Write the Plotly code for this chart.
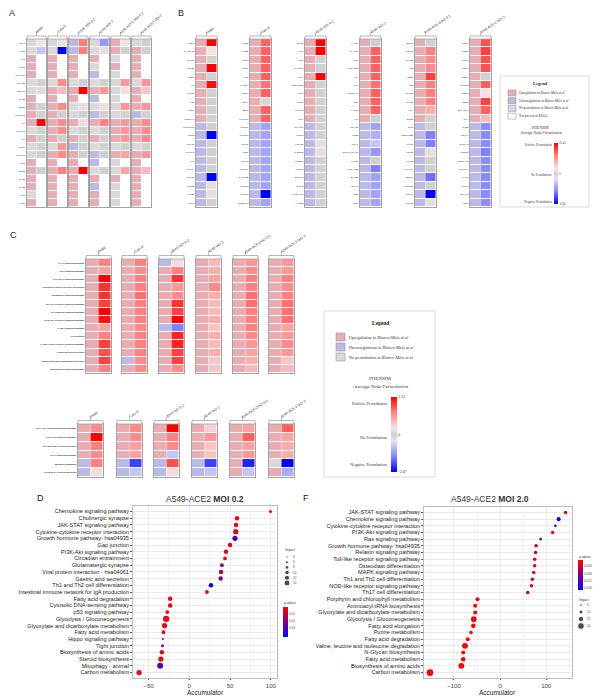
import math
import plotly.graph_objects as go

W, H = 604, 699
def X(p): return p / W
def Y(p): return 1 - p / H

SANS = "Liberation Sans, Arial, sans-serif"
SERIF = "Liberation Serif, Times New Roman, serif"

# ------------------------------------------------------------------ data
GROUPS_A = ["NHBE", "Calu-3", "A549 MOI 0.2", "A549 MOI 2", "A549-ACE2 MOI 0.2", "A549-ACE2 MOI 2"]
GROUPS_BC = ["NHBE", "Calu-3", "A549 MOI 0.2", "A549 MOI 2", "A549-ACE-2MOI 0.2", "A549-ACE-2 MOI 2"]

A_GENES = ["IFNA1", "IFNG", "MX1", "IFITM3", "SAMHD1", "TRIM25", "DDX58", "OAS1", "EDN1", "TNFSF15",
           "IL6", "CXCL11", "IL7", "CXCL9", "CXCL10", "IFIT1", "ISG15", "OAS2", "OAS3", "IFIT2", "IFIT3"]
# status in Blanco-Melo et al: 1 up, -1 down, 0 no perturbation
A_STATUS = [
    [0, 0, 1, 1, 1, 0, 0, 1, 1, 1, 1, 0, 1, 0, 0, 1, 1, 1, 1, 0, 1],
    [0, 0, 1, 1, 1, 0, 1, 1, 1, 1, 1, 1, 1, 0, 1, 1, 1, 1, 1, 1, 1],
    [-1, -1, 1, 1, 1, 0, 1, 1, 0, 0, 1, 0, 1, -1, 1, 1, 1, 1, 1, 1, 1],
    [0, 0, 1, 0, -1, 0, 1, -1, 0, -1, 1, 0, 1, 0, -1, -1, 0, 1, -1, 1, 1],
    [1, 1, 0, 1, 0, 0, 0, 0, 0, 0, 1, 1, 1, 0, 1, 0, 0, 1, 0, 0, 0],
    [0, 1, 1, 1, 1, 0, 1, 1, 1, -1, 1, 1, 1, 0, 1, 1, 1, 1, 1, 1, 1],
]
# PHENSIM average node perturbation (scaled), None = not present in KEGG
A_PERT = [
    [0.15, -0.3, None, None, None, 0, 0.08, None, 0, 0, 1.0, 0, 0, 0, 0, None, 0, None, None, None, None],
    [0.12, -1.0, None, None, None, 0.55, 0.35, None, 0.55, 0, 0.55, 0.55, 0, 0.5, 0.55, None, 0.6, None, None, None, None],
    [0.6, 0.6, None, None, None, 0, 1.0, None, 0.1, 0, 0.1, 0, 0, 0, 0, None, 1.0, None, None, None, None],
    [-0.5, 0.1, None, None, None, 0, 0.5, None, 0.2, 0, 0.6, 0, 0, 0, 0, None, 0, None, None, None, None],
    [0.15, 0, None, None, None, 0.5, 0.2, None, 0.5, 0, 0.5, 0.5, 0.5, 0, 0.45, None, 0.45, None, None, None, None],
    [0, 0, None, None, None, 0.5, 0.3, None, 0.5, 0, 0.55, 0.55, 0.55, 0, 0.5, None, 0.35, None, None, None, None],
]

B_GENES = [
    ["CSF3", "PLA2G4E", "CXCL5", "CCL20", "CSF2", "IL6", "ICAM1", "IL1B", "FPR1", "NOTCH4",
     "CHCHD10", "WNT2", "ALOX15", "ACVR1C", "LYN", "ACVR2A", "NLRP2", "TXLNB", "TRIB1", "HEY2"],
    ["IFNL2", "IFNB1", "IFNL3", "IFNL1", "TNF", "CH25H", "CSF3", "SOX9", "ZBP1", "CXCL10",
     "TNNC1", "NFKBIZ", "AGTR1", "DDC", "GRIK3", "NOTUM", "CAMK2B", "CLDN2", "KCNK3", "NPBWR1"],
    ["ISG15", "MX1", "CR2", "CXCL10", "IRF9", "SERPINE1", "IL7R", "CD27", "CMPK2", "IRF4",
     "NFATC1", "IL18R1", "FOXO1", "GABBR2", "POSTN", "NTSR1", "GNRHR", "EGR2", "CACNA1C", "ALDOB"],
    ["TXNIP", "NAMPT", "FUT1", "ATP6V1C2", "IL6", "IL1A", "RPS6KA2", "EGF", "LAMC2", "VIP",
     "NPY2R", "CPB2", "ITGAL", "ST6GALNAC1", "KRT20", "PRKAR2B", "EPHB2", "ADH1C", "ASNS", "DDC"],
    ["EGR1", "CCL20", "CXCL2", "LTB", "SELE", "TNF", "CXCL3", "CXCL1", "IL1A", "EGR3",
     "IDH2", "SERPINB7", "OXTR", "KRT20", "ACTG2", "CAMK2A", "SSTR1", "CLDN10", "ADCY5", "KRT13"],
    ["IFNL1", "IFNB1", "IFNL2", "IFNL3", "EGR1", "CMPK2", "EGR3", "SELE", "BHLHE41", "IL1A",
     "DIO2", "GSTA1", "SLC1A3", "CLDN2", "CNTNAP2", "ANGPTL4", "GATM", "G6PD", "EPHA5", "DDC"],
]
B_STATUS = [
    [1, 1, 1, 1, 1, 1, 1, 1, 1, 1, -1, -1, -1, -1, -1, -1, -1, -1, -1, -1],
    [1, 1, 1, 1, 1, 1, 1, 1, 1, 1, -1, -1, -1, -1, -1, -1, -1, -1, -1, -1],
    [1, 1, 1, 1, 1, 1, 1, 1, 1, 1, -1, -1, -1, -1, -1, -1, -1, -1, -1, -1],
    [1, 1, 1, 1, 1, 1, 1, 1, 1, 1, -1, -1, -1, -1, -1, -1, -1, -1, -1, -1],
    [1, 1, 1, 1, 1, 1, 1, 1, 1, 1, -1, -1, -1, -1, -1, -1, -1, -1, -1, -1],
    [1, 1, 1, 1, 1, 1, 1, 1, 1, 1, -1, -1, -1, -1, -1, -1, -1, -1, -1, -1],
]
B_PERT = [
    [1.0, 0.15, 0, 1.0, 0, 0.95, 0, 0, 0, 0, 0, -1.0, 0, 0, 0, 0, -1.0, 0.1, 0.1, 0],
    [0.7, 0.7, 0.7, 0.7, 0.7, 0.65, 0.7, 0.05, 0.7, 0.7, -0.45, -0.45, -0.45, -0.45, -0.45, -0.45, -0.45, -0.45, -1.0, -0.45],
    [1.0, 1.0, 0, 0, 1.0, 0, 0, 0, 0, 0, 0, 0, 0.1, 0.1, 0, 0, 0, 0, 0, 0],
    [0, 0.7, 0.7, 0.7, 0.7, 0.65, 0.7, 0.7, 0.7, 0, -0.45, -0.4, -0.3, -0.5, 0, -0.6, -0.45, -0.45, -0.45, -0.45],
    [0, 0.6, 0.55, 0.55, 0.8, 0.6, 0.6, 0.6, 0.4, 0, 0, -0.6, -0.6, 0.1, 0, 0, -0.65, 0, -1.0, 0.1],
    [0.75, 0.8, 0.75, 0.75, 0, 0.7, 0.15, 0.8, 0.7, 0.35, -0.55, -0.55, -0.55, -0.6, -0.55, -0.55, -0.55, -0.55, -0.55, -0.55],
]

C_TOP_PATHS = ["IL-17 signaling pathway", "TNF signaling pathway", "JAK-STAT signaling pathway",
               "Cytokine-cytokine receptor interaction", "Chemokine signaling pathway",
               "Toll-like receptor signaling pathway", "NF-kappa B signaling pathway",
               "NOD-like receptor signaling pathway", "cAMP signaling pathway", "Necroptosis",
               "C-type lectin receptor signaling pathway", "Osteoclast differentiation",
               "Complement and coagulation cascades", "Sphingolipid signaling pathway"]
C_TOP_STATUS = [
    [1, 1, 1, 1, 1, 1, 1, 1, 1, 1, 1, 1, 1, 1],
    [1, 1, 1, 1, 1, 1, 1, 1, 1, 1, 1, 1, -1, 1],
    [-1, 1, 1, 1, 1, 1, 1, 1, -1, 1, 1, 1, 1, 1],
    [1, 1, 1, 1, 1, 1, 1, 1, 1, 1, 1, 1, 1, 1],
    [1, 1, 1, 1, 1, 1, 1, 1, 1, 1, 1, 1, 1, 1],
    [1, 1, 1, 1, 1, 1, 1, 1, 1, 1, 1, 1, 1, 1],
]
C_TOP_PERT = [
    [0.6, 0.45, 1.0, 0.85, 0.85, 0.8, 1.0, 0.95, 0.45, 0.6, 0.8, 0.75, 0.8, 0.6],
    [0.6, 0.55, 0.6, 0.6, 0.65, 0.6, 0.6, 0.6, 0.55, 0.6, 0.6, 0.6, 0.55, 0.55],
    [0.2, 0.6, 0.85, 0.5, 0.55, 0.85, 0.8, 1.0, -0.6, 0.9, 0.9, 0.8, 0.8, 0.55],
    [0.35, 0.4, 0.45, 0.55, 0.4, 0.35, 0.35, 0.4, 0.3, 0.4, 0.35, 0.4, 0.3, 0.3],
    [0.5, 0.55, 0.6, 0.6, 0.65, 0.65, 0.6, 0.6, 0.6, 0.55, 0.5, 0.45, 0.4, 0.35],
    [0.5, 0.5, 0.6, 0.55, 0.6, 0.65, 0.65, 0.65, 0.45, 0.5, 0.55, 0.5, 0.3, 0.35],
]
C_BOT_PATHS = ["RIG-I-like receptor signaling pathway", "PI3K-Akt signaling pathway",
               "Th1 and Th2 cell differentiation", "HIF-1 signaling pathway",
               "Metabolic pathways", "Glycolysis / Gluconeogenesis"]
C_BOT_STATUS = [
    [1, 1, 1, 1, -1, -1],
    [1, 1, 1, 1, -1, -1],
    [1, 1, 1, 1, -1, -1],
    [1, 1, 1, 1, -1, -1],
    [1, 1, 1, 1, 1, 1],
    [1, 1, 1, 1, 0, 1],
]
C_BOT_PERT = [
    [0.55, 1.0, 0.6, 0.55, 0.6, 0.2],
    [0.55, 0.55, 0.45, 0.45, -0.8, -0.3],
    [1.0, 0.6, 0.55, -0.3, 0.75, 0.2],
    [0.25, 0.5, 0.3, 0.3, -0.8, -0.3],
    [0.45, 0.7, 0.45, 0.5, -0.9, -0.3],
    [0.7, 0.45, 0.4, 0.4, -1.0, -0.4],
]

D_PATHS = ["Chemokine signaling pathway", "Cholinergic synapse", "JAK-STAT signaling pathway",
           "Cytokine-cytokine receptor interaction", "Growth hormone pathway- hsa04935", "Gap junction",
           "PI3K-Akt signaling pathway", "Circadian entrainment", "Glutamatergic synapse",
           "Viral protein interaction - hsa04061", "Gastric acid secretion", "Th1 and Th2 cell differentiation",
           "Intestinal immune network for IgA production", "Fatty acid degradation",
           "Cytosolic DNA-sensing pathway", "p53 signaling pathway", "Glycolysis / Gluconeogenesis",
           "Glyoxylate and dicarboxylate metabolism", "Fatty acid metabolism", "Hippo signaling pathway",
           "Tight junction", "Biosynthesis of amino acids", "Steroid biosynthesis", "Mitophagy - animal",
           "Carbon metabolism"]
D_ACC = [99.6, 58.6, 57.4, 57.0, 56.1, 50.0, 45.0, 43.9, 40.0, 39.0, 38.5, 26.6, 21.7,
         -23.4, -23.4, -27.0, -28.3, -30.3, -31.6, -32.4, -32.8, -33.6, -34.8, -35.7, -61.5]
D_IMPACT = [6, 10, 10, 12, 12, 10, 10, 8, 8, 10, 10, 10, 8, 10, 10, 8, 15, 12, 8, 3, 6, 10, 12, 14, 12]
D_PADJ = [0.002, 0.002, 0.003, 0.004, 0.03, 0.004, 0.004, 0.004, 0.02, 0.01, 0.022, 0.041, 0.003,
          0.002, 0.003, 0.004, 0.003, 0.004, 0.004, 0.022, 0.018, 0.004, 0.004, 0.03, 0.003]
D_IMPACT_LEGEND = [4, 6, 8, 10, 12, 14]
D_PADJ_TICKS = [0.01, 0.02, 0.03]
D_X_TICKS = [-50, 0, 50, 100]

E_PATHS = ["JAK-STAT signaling pathway", "Chemokine signaling pathway", "Cytokine-cytokine receptor interaction",
           "PI3K-Akt signaling pathway", "Ras signaling pathway", "Growth hormone pathway- hsa04935",
           "Relaxin signaling pathway", "Toll-like receptor signaling pathway", "Osteoclast differentiation",
           "MAPK signaling pathway", "Th1 and Th2 cell differentiation", "NOD-like receptor signaling pathway",
           "Th17 cell differentiation", "Porphyrin and chlorophyll metabolism", "Aminoacyl-tRNA biosynthesis",
           "Glyoxylate and dicarboxylate metabolism", "Glycolysis / Gluconeogenesis", "Fatty acid elongation",
           "Purine metabolism", "Fatty acid degradation", "Valine, leucine and isoleucine degradation",
           "N-Glycan biosynthesis", "Fatty acid metabolism", "Biosynthesis of amino acids", "Carbon metabolism"]
E_ACC = [142, 127, 120, 114, 88, 78, 77, 75, 75, 73, 70, 68, 60,
         -49, -54, -54, -57, -58, -63, -70, -76, -80, -80, -84, -152]
E_IMPACT = [8, 10, 5, 8, 5, 8, 8, 8, 8, 8, 8, 8, 8, 10, 10, 10, 16, 12, 8, 10, 17, 10, 12, 17, 20]
E_PADJ = [0.001, 0.016, 0.011, 0.001, 0.008, 0.005, 0.005, 0.003, 0.003, 0.003, 0.003, 0.003, 0.005,
          0.001, 0.001, 0.001, 0.001, 0.001, 0.001, 0.001, 0.001, 0.001, 0.001, 0.001, 0.001]
E_IMPACT_LEGEND = [5, 10, 15, 20]
E_PADJ_TICKS = [0.004, 0.008, 0.012, 0.016]
E_X_TICKS = [-100, 0, 100]

LEGEND_ITEMS_B = ["Upregulation in <i>Blanco-Melo et al</i>", "Downregulation in <i>Blanco-Melo et al</i>",
                  "No perturbation in <i>Blanco-Melo et al</i>", "Not present in KEGG"]
LEGEND_ITEMS_C = LEGEND_ITEMS_B[:3]
PERT_LABELS = ["Negative Perturbation", "No Perturbation", "Positive Perturbation"]
B_SCALE_TEXT = ["-6.94", "0", "23.41"]
C_SCALE_TEXT = ["-2.07", "0", "2.12"]

# ------------------------------------------------------------------ style
UP_C, DOWN_C, NONE_C = "#e8adb2", "#bab9e8", "#d9d9d9"
STATUS_CS = [[0, DOWN_C], [0.333, DOWN_C], [0.333, NONE_C], [0.667, NONE_C], [0.667, UP_C], [1, UP_C]]
PERT_CS = [[0, "#0000ff"], [0.2, "#8080ff"], [0.42, "#e4e4f4"], [0.5, "#d0d0d0"],
           [0.58, "#f4e4e4"], [0.8, "#ff8080"], [1, "#ff0000"]]
# p.adjust scale shown with low values (red) on top: colour by negated p.adjust
PADJ_CS = [[0, "#0000ff"], [1, "#ff0000"]]
BOX = "#a3a3a3"

fig = go.Figure()
axes = {}
shapes = []
annots = []
counter = [0]


def new_axes(xdom, ydom):
    counter[0] += 1
    i = counter[0]
    sfx = "" if i == 1 else str(i)
    axes["xaxis" + sfx] = dict(domain=xdom, anchor="y" + sfx)
    axes["yaxis" + sfx] = dict(domain=ydom, anchor="x" + sfx)
    return "x" + sfx, "y" + sfx, "xaxis" + sfx, "yaxis" + sfx


def txt(x, y, s, size, color="#222", family=SANS, xanchor="center", yanchor="middle", angle=0):
    annots.append(dict(x=X(x), y=Y(y), xref="paper", yref="paper", text=s, showarrow=False,
                       font=dict(size=size, color=color, family=family), xanchor=xanchor,
                       yanchor=yanchor, textangle=angle, borderpad=0))


def rect(x0, y0, x1, y1, fill="white", line=BOX, lw=0.8):
    shapes.append(dict(type="rect", xref="paper", yref="paper", x0=X(x0), x1=X(x1), y0=Y(y0), y1=Y(y1),
                       fillcolor=fill, line=dict(color=line, width=lw), layer="above"))


def heat_group(left, width, top, bottom, status, pert, labels, lab_fs, head_h, col_label, col_fs,
               angle, cbar=None, bold=False):
    xa, ya, xn, yn = new_axes([X(left), X(left + width)], [Y(bottom), Y(top)])
    n = len(status)
    rows = list(range(n))
    fig.add_trace(go.Heatmap(z=[[s] for s in status], x=[-0.5, 0.5], y=rows, colorscale=STATUS_CS,
                             zmin=-1, zmax=1, showscale=False, xgap=1, ygap=1, xaxis=xa, yaxis=ya,
                             hoverinfo="skip"))
    hp = dict(z=[[v] for v in pert], x=[0.5, 1.5], y=rows, colorscale=PERT_CS, zmin=-1, zmax=1,
              xgap=1, ygap=1, xaxis=xa, yaxis=ya, hoverinfo="skip", showscale=cbar is not None)
    if cbar is not None:
        hp["colorbar"] = cbar
    fig.add_trace(go.Heatmap(**hp))
    if labels and bold:
        labels = ["<b>" + s + "</b>" for s in labels]
    axes[xn].update(range=[-0.5, 1.5], showline=True, mirror=True, linecolor=BOX, linewidth=1.3,
                    showticklabels=False, showgrid=False, zeroline=False, ticks="")
    axes[yn].update(range=[n - 0.5, -0.5], showline=True, mirror=True, linecolor=BOX, linewidth=1.3,
                    showgrid=False, zeroline=False, ticks="", tickvals=rows,
                    ticktext=labels if labels else [""] * n, showticklabels=bool(labels),
                    tickfont=dict(size=lab_fs, color="#333", family=SANS))
    # header box, tick and rotated label
    rect(left, top - head_h, left + width, top, lw=0.8)
    cx = left + width / 2
    shapes.append(dict(type="line", xref="paper", yref="paper", x0=X(cx), x1=X(cx),
                       y0=Y(top - head_h), y1=Y(top - head_h - 3.5), line=dict(color="#888", width=0.5)))
    L = 0.5 * col_fs * len(col_label)
    a = math.radians(angle)
    sx, sy = cx + 0.5, top - head_h - 3.5
    txt(sx + L / 2 * math.cos(a), sy - L / 2 * math.sin(a), col_label, col_fs, color="#333", angle=-angle)


# ------------------------------------------------------------------ panel A
A_LEFTS = [27, 48, 69, 90, 111, 132]
for g in range(6):
    heat_group(A_LEFTS[g], 19, 39, 207, A_STATUS[g], A_PERT[g], A_GENES if g == 0 else None, 2.4, 3,
               GROUPS_A[g], 3.4, 42)

# ------------------------------------------------------------------ panel B
B_LEFTS = [196, 250, 305, 360, 415, 470]
cb_B = dict(x=X(554), xanchor="left", y=Y(143), yanchor="top", len=61, lenmode="pixels", thickness=4,
            thicknessmode="pixels", xpad=0, ypad=0, outlinewidth=0, tickvals=[-1, 0, 1],
            ticktext=B_SCALE_TEXT, ticks="", tickfont=dict(size=3, family=SERIF, color="#333"))
for g in range(6):
    heat_group(B_LEFTS[g], 21, 39, 207, B_STATUS[g], B_PERT[g], B_GENES[g], 2.4, 3,
               GROUPS_BC[g], 3.4, 34, cbar=cb_B if g == 0 else None)

# ------------------------------------------------------------------ panel C
CT_LEFTS = [86, 122, 159, 196, 233, 269]
CB_LEFTS = [78, 117, 154, 192, 230, 269]
cb_C = dict(x=X(391), xanchor="left", y=Y(397), yanchor="top", len=75, lenmode="pixels", thickness=6,
            thicknessmode="pixels", xpad=0, ypad=0, outlinewidth=0, tickvals=[-1, 0, 1],
            ticktext=C_SCALE_TEXT, ticks="", tickfont=dict(size=4, family=SERIF, color="#333"))
for g in range(6):
    heat_group(CT_LEFTS[g], 25, 259, 373, C_TOP_STATUS[g], C_TOP_PERT[g], C_TOP_PATHS if g == 0 else None,
               2.3, 3.5, GROUPS_BC[g], 3.4, 34, cbar=cb_C if g == 0 else None, bold=True)
for g in range(6):
    heat_group(CB_LEFTS[g], 25, 424, 477, C_BOT_STATUS[g], C_BOT_PERT[g], C_BOT_PATHS if g == 0 else None,
               2.3, 3.5, GROUPS_BC[g], 3.4, 34, bold=True)

# ------------------------------------------------------------------ legends B and C
SW_COLS = [UP_C, DOWN_C, NONE_C, "white"]
rect(500, 76, 589, 207, line="#cfcfcf", lw=0.8)
txt(540, 84, "<b>Legend</b>", 4.5, family=SERIF)
for i, item in enumerate(LEGEND_ITEMS_B):
    yc = 93 + i * 7.7
    rect(508, yc - 3, 516, yc + 3, fill=SW_COLS[i], line="#999", lw=0.6)
    txt(518, yc, item, 3.3, family=SERIF, xanchor="left", color="#333")
txt(540, 128, "PHENSIM", 3.8, family=SERIF, color="#333")
txt(540, 133.5, "<i>Average Node Perturbation</i>", 3.8, family=SERIF, color="#333")
for j, yy in enumerate([202, 175, 145]):
    txt(553, yy, PERT_LABELS[j], 3.2, family=SERIF, xanchor="right", color="#333")

rect(324, 311, 435, 477, line="#cfcfcf", lw=0.8)
txt(380, 323, "<b>Legend</b>", 5.5, family=SERIF)
for i, item in enumerate(LEGEND_ITEMS_C):
    yc = 337 + i * 10
    rect(336, yc - 4, 345, yc + 4, fill=SW_COLS[i], line="#999", lw=0.6)
    txt(348, yc, item, 4.3, family=SERIF, xanchor="left", color="#333")
txt(380, 378, "PHENSIM", 5, family=SERIF, color="#333")
txt(380, 386, "<i>Average Node Perturbation</i>", 5, family=SERIF, color="#333")
for j, yy in enumerate([464, 437, 403]):
    txt(389, yy, PERT_LABELS[j], 4.2, family=SERIF, xanchor="right", color="#333")

# ------------------------------------------------------------------ dot plots D and E
def dot_panel(left, right, top, bottom, paths, acc, impact, padj, xr, xticks, minor, size_a, size_b,
              cmin, cmax, cb_x, cb_y, cb_ticks):
    xa, ya, xn, yn = new_axes([X(left), X(right)], [Y(bottom), Y(top)])
    n = len(paths)
    fig.add_trace(go.Scatter(
        x=acc, y=list(range(n)), mode="markers", xaxis=xa, yaxis=ya, hoverinfo="skip",
        marker=dict(size=[size_a + size_b * v for v in impact], color=[-p for p in padj],
                    colorscale=PADJ_CS, cmin=-cmax, cmax=-cmin, line=dict(width=0), opacity=1,
                    colorbar=dict(x=X(cb_x), xanchor="left", y=Y(cb_y), yanchor="top", len=30,
                                  lenmode="pixels", thickness=5, thicknessmode="pixels", xpad=0,
                                  ypad=0, outlinewidth=0, tickvals=[-t for t in cb_ticks],
                                  ticktext=[str(t) for t in cb_ticks], ticks="",
                                  tickfont=dict(size=3, color="#444", family=SANS)))))
    axes[xn].update(range=xr, tickvals=xticks, showline=True, mirror=True, linecolor="#bdbdbd",
                    linewidth=0.8, showgrid=True, gridcolor="#ebebeb", gridwidth=0.6, zeroline=False,
                    ticks="outside", ticklen=1.5, tickwidth=0.6, tickcolor="#555",
                    tickfont=dict(size=6, color="#444", family=SANS),
                    minor=dict(dtick=minor, tick0=0, showgrid=True, gridcolor="#f4f4f4", gridwidth=0.5))
    axes[yn].update(range=[n - 0.18, -0.82], tickvals=list(range(n)), ticktext=paths, showline=True,
                    mirror=True, linecolor="#bdbdbd", linewidth=0.8, showgrid=True, gridcolor="#ebebeb",
                    gridwidth=0.6, zeroline=False, ticks="outside", ticklen=2, tickwidth=0.6,
                    tickcolor="#555", tickfont=dict(size=5.6, color="#222", family=SANS))


dot_panel(133, 277, 506, 678, D_PATHS, D_ACC, D_IMPACT, D_PADJ, [-69, 107.6], D_X_TICKS, 25,
          0.8, 0.37, 0.0, 0.043, 283, 607, D_PADJ_TICKS)
dot_panel(424, 572, 507, 678, E_PATHS, E_ACC, E_IMPACT, E_PADJ, [-165, 156], E_X_TICKS, 50,
          1.35, 0.27, 0.0005, 0.017, 578, 560, E_PADJ_TICKS)

txt(205, 498.5, "A549-ACE2 <b>MOI 0.2</b>", 8.5, color="#333")
txt(490, 498.5, "A549-ACE2 <b>MOI 2.0</b>", 8.5, color="#333")
txt(205, 692, "Accumulator", 6.5, color="#222")
txt(497, 692, "Accumulator", 6.5, color="#222")
txt(283, 603, "p.adjust", 3.3, xanchor="left", color="#333")
txt(578, 556.5, "p.adjust", 3.3, xanchor="left", color="#333")
txt(284, 550, "Impact", 3.3, xanchor="left", color="#333")
txt(578, 599.5, "Impact", 3.3, xanchor="left", color="#333")

# size legends drawn on a hidden full-page overlay axis (pixel units)
xo, yo, xon, yon = new_axes([0, 1], [0, 1])
axes[xon].update(range=[0, W], visible=False, fixedrange=True)
axes[yon].update(range=[H, 0], visible=False, fixedrange=True)
D_LEG_Y = [557 + i * 5.2 for i in range(len(D_IMPACT_LEGEND))]
E_LEG_Y = [605 + i * 7 for i in range(len(E_IMPACT_LEGEND))]
fig.add_trace(go.Scatter(x=[287] * len(D_IMPACT_LEGEND), y=D_LEG_Y, mode="markers", xaxis=xo, yaxis=yo,
                         marker=dict(color="black", size=[0.8 + 0.37 * v for v in D_IMPACT_LEGEND]),
                         hoverinfo="skip"))
fig.add_trace(go.Scatter(x=[581] * len(E_IMPACT_LEGEND), y=E_LEG_Y, mode="markers", xaxis=xo, yaxis=yo,
                         marker=dict(color="black", size=[1.35 + 0.27 * v for v in E_IMPACT_LEGEND]),
                         hoverinfo="skip"))
for v, yy in zip(D_IMPACT_LEGEND, D_LEG_Y):
    txt(292, yy, str(v), 3, xanchor="left", color="#444")
for v, yy in zip(E_IMPACT_LEGEND, E_LEG_Y):
    txt(586, yy, str(v), 3, xanchor="left", color="#444")

# panel letters
for lab, px, py in [("A", 12, 13), ("B", 181, 13), ("C", 13, 235), ("D", 40, 498), ("F", 306, 498)]:
    txt(px, py, lab, 9, color="#222")

fig.update_layout(width=W, height=H, margin=dict(l=0, r=0, t=0, b=0, autoexpand=False),
                  paper_bgcolor="white", plot_bgcolor="rgba(0,0,0,0)", showlegend=False, shapes=shapes,
                  annotations=annots, font=dict(family=SANS), **axes)
fig.write_html("out.html", config={"displayModeBar": False},
               post_script="document.body.style.margin='0px';document.body.style.padding='0px';")
